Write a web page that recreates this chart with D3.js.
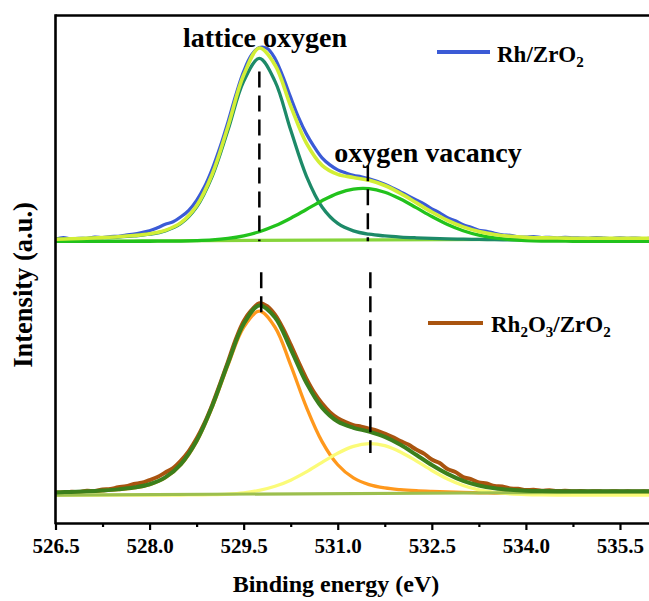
<!DOCTYPE html>
<html>
<head>
<meta charset="utf-8">
<script src="https://cdn.jsdelivr.net/npm/d3@7"></script>
<style>
  html, body { margin: 0; padding: 0; background: #fff; }
  svg text { font-family: "Times New Roman", "Liberation Serif", serif; font-weight: bold; fill: #000; }
</style>
</head>
<body>
<svg id="chart" width="649" height="601"></svg>
<script>
// Binding energy grid of the fitted curves (eV)
const energy = [526.5,526.75,527,527.25,527.5,527.75,528,528.25,528.5,528.75,529,529.25,529.5,529.75,530,530.25,530.5,530.75,531,531.25,531.5,531.75,532,532.25,532.5,532.75,533,533.25,533.5,533.75,534,534.25,534.5,534.75,535,535.25,535.5,535.75,536];
// Binding energy grid of the measured spectra (eV)
const energyRaw = [526.5,526.625,526.75,526.875,527,527.125,527.25,527.375,527.5,527.625,527.75,527.875,528,528.125,528.25,528.375,528.5,528.625,528.75,528.875,529,529.125,529.25,529.375,529.5,529.625,529.75,529.875,530,530.125,530.25,530.375,530.5,530.625,530.75,530.875,531,531.125,531.25,531.375,531.5,531.625,531.75,531.875,532,532.125,532.25,532.375,532.5,532.625,532.75,532.875,533,533.125,533.25,533.375,533.5,533.625,533.75,533.875,534,534.125,534.25,534.375,534.5,534.625,534.75,534.875,535,535.125,535.25,535.375,535.5,535.625,535.75,535.875,536];

// Rh/ZrO2 O 1s (upper spectrum)
const rhRaw = [0.40,0.75,0.45,0.60, 0.55,0.85,0.75,0.95,1.00,1.25,1.45,1.75, 2.10,2.70,3.40,3.90,4.90,6.20,8.20,10.90, 14.50,18.90,23.90,29.30,34.00,37.30,38.80,38.60, 36.60,33.00,28.80,24.80,21.50,18.90,16.70,15.30, 14.30,13.70,13.20,12.90,12.50,12.00,11.40,10.70, 9.90,9.10,8.30,7.50,6.50,5.70,4.70,4.10, 3.30,2.80,2.20,2.00,1.60,1.30,1.20,0.90, 0.85,0.95,0.75,0.80,0.65,0.80,0.70,0.65, 0.60,0.75,0.65,0.55,0.70,0.60,0.65,0.55, 0.62];
const rhEnvelope = [0.42,0.50,0.61,0.74,0.90,1.14,1.50,2.19,3.73,7.11,13.47,22.99,33.27,38.68,35.28,27.08,19.64,15.21,13.40,12.78,12.20,11.16,9.59,7.73,5.85,4.19,2.88,1.96,1.35,0.99,0.79,0.69,0.65,0.62,0.61,0.61,0.61,0.62,0.62];
const rhLattice  = [0.42,0.49,0.58,0.70,0.85,1.07,1.41,2.08,3.57,6.86,13.06,22.26,32.01,36.60,32.01,22.26,13.06,6.86,3.57,2.08,1.41,1.07,0.85,0.70,0.58,0.49,0.42,0.37,0.32,0.28,0.25,0.22,0.20,0.18,0.16,0.15,0.14,0.13,0.12];
const rhVacancy  = [0,0,0,0,0,0,0.01,0.02,0.05,0.13,0.28,0.58,1.10,1.91,3.09,4.62,6.37,8.13,9.59,10.45,10.53,9.81,8.45,6.73,4.95,3.37,2.12,1.23,0.66,0.33,0.15,0.06,0.03,0.01,0,0,0,0,0];
const rhBackground = [[526.5, 0], [536, 0.5]];

// Rh2O3/ZrO2 O 1s (lower spectrum)
const rhoxRaw = [0.55,0.45,0.65,0.60, 0.85,0.80,1.10,1.20,1.55,1.75,2.20,2.45, 3.00,3.60,4.50,5.40,6.90,8.80,11.30,14.40, 18.10,22.30,26.70,31.20,34.80,37.00,38.40,37.80, 36.10,33.40,30.10,26.60,23.30,20.50,18.30,16.60, 15.40,14.60,14.00,13.70,13.30,12.90,12.30,11.60, 10.80,10.10,9.10,8.30,7.10,6.40,5.20,4.60, 3.60,3.20,2.50,2.30,1.80,1.70,1.30,1.25, 1.00,1.05,0.85,0.95,0.80,0.85,0.75,0.80, 0.72,0.78,0.70,0.76,0.72,0.74,0.70,0.74, 0.72];
const rhoxEnvelope = [0.52,0.63,0.75,0.91,1.13,1.49,2.16,3.53,6.20,10.87,17.84,26.38,34.23,37.94,35.56,29.23,22.48,17.50,14.71,13.46,12.69,11.63,10.05,8.06,6.02,4.24,2.84,1.91,1.35,1.04,0.87,0.80,0.77,0.75,0.75,0.74,0.74,0.75,0.75];
const rhoxLattice  = [0.52,0.61,0.72,0.86,1.07,1.41,2.07,3.42,6.06,10.70,17.60,26.01,33.59,36.80,33.59,26.01,17.60,10.70,6.06,3.42,2.07,1.41,1.07,0.86,0.72,0.61,0.52,0.45,0.40,0.35,0.31,0.28,0.25,0.23,0.21,0.19,0.17,0.16,0.15];
const rhoxVacancy  = [0,0,0,0,0,0,0,0,0.01,0.03,0.08,0.20,0.45,0.93,1.75,2.98,4.63,6.53,8.37,9.74,10.30,9.89,8.63,6.84,4.92,3.23,1.91,1.03,0.51,0.23,0.09,0.03,0.01,0,0,0,0,0,0];
const rhoxBackground = [[526.5, 0], [536, 0.6]];

// Vertical offset of the upper spectrum in the stack
const stackOffset = 50.8;

// Peak position markers: [energy, from, to] in stacked intensity units
const markers = [
  [529.75, 50.8, 84.8],
  [529.78, 35.4, 44.6],
  [531.48, 50.8, 66.0],
  [531.52, 8.4, 44.6]
];

const xTicks = [526.5, 528.0, 529.5, 531.0, 532.5, 534.0, 535.5];
const xMinorTicks = [527.25, 528.75, 530.25, 531.75, 533.25, 534.75];

const serif = '"Times New Roman", "Liberation Serif", serif';
const svg = d3.select("#chart");
const plotLeft = 55.5, plotTop = 15.5, plotBottom = 523, pxPerEv = 62.72;

const x = d3.scaleLinear().domain([526.5, 536]).range([plotLeft, plotLeft + 9.5 * pxPerEv]);
const y = d3.scaleLinear().domain([-5.6, 96]).range([plotBottom, plotTop]);

svg.append("defs").append("clipPath").attr("id", "plotClip")
  .append("rect").attr("x", plotLeft).attr("y", plotTop).attr("width", 649 - plotLeft).attr("height", plotBottom - plotTop);

const plot = svg.append("g").attr("clip-path", "url(#plotClip)");

const line = (xs, offset) => d3.line()
  .x((d, i) => x(xs[i]))
  .y(d => y(d + offset))
  .curve(d3.curveCatmullRom.alpha(0.5));

const straight = (offset) => d3.line()
  .x(d => x(d[0]))
  .y(d => y(d[1] + offset));

function draw(xs, data, offset, color, width) {
  plot.append("path").datum(data)
    .attr("d", line(xs, offset))
    .attr("fill", "none")
    .attr("stroke", color)
    .attr("stroke-width", width)
    .attr("stroke-linejoin", "round")
    .attr("stroke-linecap", "round");
}

// Upper spectrum: Rh/ZrO2
draw(energyRaw, rhRaw, stackOffset, "#3b5bd6", 3.2);
plot.append("path").datum(rhBackground).attr("d", straight(stackOffset))
  .attr("fill", "none").attr("stroke", "#86d43a").attr("stroke-width", 3.2);
draw(energy, rhLattice, stackOffset, "#1d8a68", 3.3);
draw(energy, rhVacancy, stackOffset, "#22c21c", 3.3);
draw(energy, rhEnvelope, stackOffset, "#d2ee36", 3.6);

// Lower spectrum: Rh2O3/ZrO2
draw(energyRaw, rhoxRaw, 0, "#a9540f", 4);
draw(energy, rhoxLattice, 0, "#ff981c", 3.3);
draw(energy, rhoxVacancy, 0, "#fbfb78", 3.3);
plot.append("path").datum(rhoxBackground).attr("d", straight(0))
  .attr("fill", "none").attr("stroke", "#9cbf4e").attr("stroke-width", 3.2);
draw(energy, rhoxEnvelope, 0, "#3b7f1c", 4);

// Peak position markers
plot.selectAll("line.marker").data(markers).enter().append("line")
  .attr("class", "marker")
  .attr("x1", d => x(d[0])).attr("x2", d => x(d[0]))
  .attr("y1", d => y(d[2])).attr("y2", d => y(d[1]))
  .attr("stroke", "#000").attr("stroke-width", 2.5)
  .attr("stroke-dasharray", "16,8");

// Frame: top and left edges
svg.append("line").attr("x1", plotLeft).attr("x2", 649).attr("y1", plotTop).attr("y2", plotTop)
  .attr("stroke", "#000").attr("stroke-width", 2.6);
svg.append("line").attr("x1", plotLeft).attr("x2", plotLeft).attr("y1", plotTop - 1.3).attr("y2", plotBottom + 1.3)
  .attr("stroke", "#000").attr("stroke-width", 2.6);

// Bottom axis
const xAxis = d3.axisBottom(x).tickValues(xTicks).tickFormat(d3.format(".1f"))
  .tickSizeInner(7).tickSizeOuter(0).tickPadding(8);
const gx = svg.append("g").attr("transform", `translate(0,${plotBottom})`).call(xAxis);
gx.attr("font-family", serif).attr("font-size", 21);
gx.select(".domain").attr("stroke", "#000").attr("stroke-width", 2.6);
gx.selectAll(".tick line").attr("stroke", "#000").attr("stroke-width", 2.2);
gx.selectAll(".tick text").attr("font-size", 21).style("font-weight", "bold");

const xMinor = d3.axisBottom(x).tickValues(xMinorTicks).tickFormat("").tickSizeInner(4).tickSizeOuter(0);
const gm = svg.append("g").attr("transform", `translate(0,${plotBottom})`).call(xMinor);
gm.select(".domain").remove();
gm.selectAll(".tick line").attr("stroke", "#000").attr("stroke-width", 2.2);

// Axis titles
svg.append("text").attr("x", 336).attr("y", 592).attr("text-anchor", "middle")
  .attr("font-size", 24).text("Binding energy (eV)");
svg.append("text").attr("transform", "translate(32,285) rotate(-90)").attr("text-anchor", "middle")
  .attr("font-size", 26.5).text("Intensity (a.u.)");

// Peak annotations
svg.append("text").attr("x", 265).attr("y", 47).attr("text-anchor", "middle")
  .attr("font-size", 28).text("lattice oxygen");
svg.append("text").attr("x", 428).attr("y", 162).attr("text-anchor", "middle")
  .attr("font-size", 28).text("oxygen vacancy");

// Legends
function legend(xl1, xl2, yl, color, xt, yt, parts) {
  svg.append("line").attr("x1", xl1).attr("x2", xl2).attr("y1", yl).attr("y2", yl)
    .attr("stroke", color).attr("stroke-width", 4);
  const t = svg.append("text").attr("x", xt).attr("y", yt).attr("font-size", 23);
  let shifted = false;
  parts.forEach(p => {
    const ts = t.append("tspan").text(p.t);
    if (p.sub && !shifted) { ts.attr("dy", 5).attr("font-size", 15); shifted = true; }
    else if (!p.sub && shifted) { ts.attr("dy", -5); shifted = false; }
  });
}
legend(437, 490, 52, "#3b5bd6", 497, 62, [{t: "Rh/ZrO"}, {t: "2", sub: true}]);
legend(428, 483, 323, "#a9540f", 491, 332,
  [{t: "Rh"}, {t: "2", sub: true}, {t: "O"}, {t: "3", sub: true}, {t: "/ZrO"}, {t: "2", sub: true}]);
</script>
</body>
</html>
